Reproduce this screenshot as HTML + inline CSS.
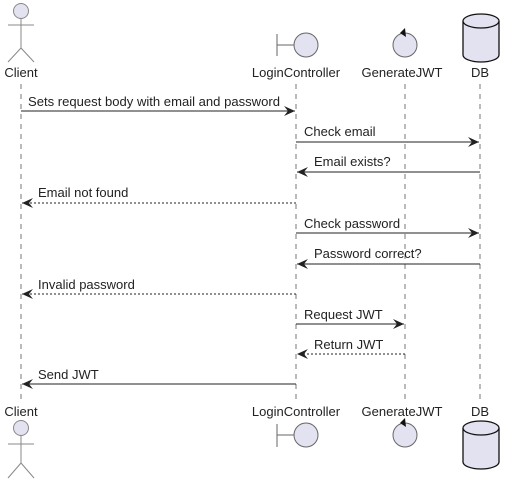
<!DOCTYPE html>
<html><head><meta charset="utf-8"><style>
html,body{margin:0;padding:0;background:#fff;width:512px;height:485px;overflow:hidden}
text{font-family:"Liberation Sans",Arial,sans-serif;font-size:13px;fill:#222}
</style></head><body>
<svg width="512" height="485" viewBox="0 0 512 485" xmlns="http://www.w3.org/2000/svg">
<defs>
<marker id="a" markerWidth="12" markerHeight="10" refX="11" refY="5" orient="auto" markerUnits="userSpaceOnUse">
<path d="M0,0 L11,5 L0,10 L4,5 Z" fill="#222"/>
</marker>
</defs>
<g stroke="#777" stroke-dasharray="5,5" stroke-width="1">
<line x1="21" y1="84" x2="21" y2="402"/>
<line x1="296" y1="84" x2="296" y2="402"/>
<line x1="405" y1="84" x2="405" y2="402"/>
<line x1="480" y1="84" x2="480" y2="402"/>
</g>
<g fill="#e2e2f0" stroke="#888" stroke-width="1">
<circle cx="21" cy="11" r="7.5"/>
<line x1="21" y1="18.5" x2="21" y2="48"/><line x1="8" y1="25" x2="34" y2="25"/>
<line x1="21" y1="48" x2="8" y2="62"/><line x1="21" y1="48" x2="34" y2="62"/>
</g>
<g fill="#e2e2f0" stroke="#666" stroke-width="1">
<line x1="277" y1="34" x2="277" y2="56"/><line x1="277" y1="45" x2="294" y2="45"/>
<circle cx="306" cy="45" r="12"/>
<circle cx="405" cy="45" r="12"/>
</g>
<path d="M405,28 L400,33 L406,37 Z" fill="#111"/>
<g fill="#e2e2f0" stroke="#111" stroke-width="1.3">
<path d="M463,21 L463,55 A18,7 0 0 0 499,55 L499,21"/>
<ellipse cx="481" cy="21" rx="18" ry="7"/>
</g>
<text x="21" y="77" text-anchor="middle">Client</text>
<text x="296" y="77" text-anchor="middle">LoginController</text>
<text x="402" y="77" text-anchor="middle">GenerateJWT</text>
<text x="480" y="77" text-anchor="middle">DB</text>
<text x="21" y="416" text-anchor="middle">Client</text>
<text x="296" y="416" text-anchor="middle">LoginController</text>
<text x="402" y="416" text-anchor="middle">GenerateJWT</text>
<text x="480" y="416" text-anchor="middle">DB</text>
<g fill="#e2e2f0" stroke="#888" stroke-width="1">
<circle cx="21" cy="428" r="7.5"/>
<line x1="21" y1="435.5" x2="21" y2="463"/><line x1="8" y1="444" x2="34" y2="444"/>
<line x1="21" y1="463" x2="8" y2="478"/><line x1="21" y1="463" x2="34" y2="478"/>
</g>
<g fill="#e2e2f0" stroke="#666" stroke-width="1">
<line x1="277" y1="424" x2="277" y2="447"/><line x1="277" y1="435" x2="294" y2="435"/>
<circle cx="306" cy="435" r="12"/>
<circle cx="405" cy="435" r="12"/>
</g>
<path d="M405,418 L400,423 L406,427 Z" fill="#111"/>
<g fill="#e2e2f0" stroke="#111" stroke-width="1.3">
<path d="M463,428 L463,462 A18,7 0 0 0 499,462 L499,428"/>
<ellipse cx="481" cy="428" rx="18" ry="7"/>
</g>
<g stroke="#222" stroke-width="1" fill="none">
<line x1="21" y1="111" x2="295" y2="111" marker-end="url(#a)"/>
<line x1="296" y1="142" x2="479" y2="142" marker-end="url(#a)"/>
<line x1="480" y1="172" x2="297" y2="172" marker-end="url(#a)"/>
<line x1="296" y1="203" x2="22" y2="203" stroke-dasharray="2,2" marker-end="url(#a)"/>
<line x1="296" y1="233" x2="479" y2="233" marker-end="url(#a)"/>
<line x1="480" y1="264" x2="297" y2="264" marker-end="url(#a)"/>
<line x1="296" y1="294" x2="22" y2="294" stroke-dasharray="2,2" marker-end="url(#a)"/>
<line x1="296" y1="324" x2="404" y2="324" marker-end="url(#a)"/>
<line x1="405" y1="354" x2="297" y2="354" stroke-dasharray="2,2" marker-end="url(#a)"/>
<line x1="296" y1="384" x2="22" y2="384" marker-end="url(#a)"/>
</g>
<text x="28" y="106" textLength="252" lengthAdjust="spacingAndGlyphs">Sets request body with email and password</text>
<text x="304" y="136">Check email</text>
<text x="314" y="166">Email exists?</text>
<text x="38" y="197">Email not found</text>
<text x="304" y="228">Check password</text>
<text x="314" y="258">Password correct?</text>
<text x="38" y="289">Invalid password</text>
<text x="304" y="319">Request JWT</text>
<text x="314" y="349">Return JWT</text>
<text x="38" y="379">Send JWT</text>
</svg>
</body></html>
